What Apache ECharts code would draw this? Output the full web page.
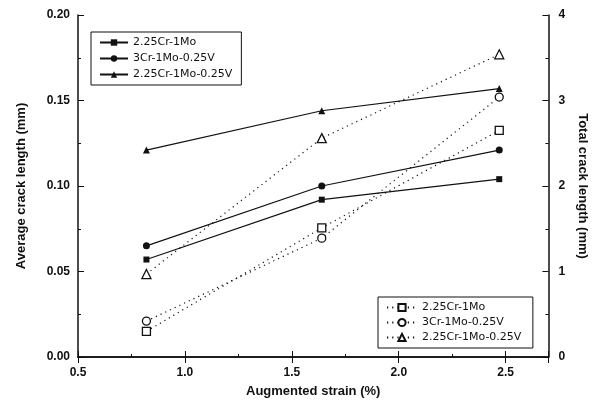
<!DOCTYPE html>
<html>
<head>
<meta charset="utf-8">
<script src="https://cdn.jsdelivr.net/npm/echarts@6/dist/echarts.min.js"></script>
<style>
  html, body { margin: 0; padding: 0; background: #fff; }
  #chart { width: 597px; height: 405px; }
</style>
</head>
<body>
<div id="chart"></div>
<script>
// ── Data ──
const strain = [0.82, 1.64, 2.47];

// average crack length (mm), left axis, solid lines
const avgCr1Mo = [0.057, 0.092, 0.104];
const avg3Cr = [0.065, 0.100, 0.121];
const avgCrV = [0.121, 0.144, 0.157];

// total crack length (mm), right axis, dotted lines
const totCr1Mo = [0.30, 1.51, 2.65];
const tot3Cr = [0.42, 1.39, 3.04];
const totCrV = [0.97, 2.56, 3.54];

const names = ['2.25Cr-1Mo', '3Cr-1Mo-0.25V', '2.25Cr-1Mo-0.25V'];

const pairs = ys => strain.map((x, i) => [x, ys[i]]);

const FONT = 'Liberation Sans';
const ink = '#111';

function solid(name, ys, symbol, size) {
  return {
    name, type: 'line', xAxisIndex: 0, yAxisIndex: 0,
    data: pairs(ys), symbol, symbolSize: size,
    itemStyle: { color: ink },
    lineStyle: { color: ink, width: 1.2, type: 'solid' },
  };
}

// trailing space keeps the two legends apart
function dotted(name, ys, symbol, size) {
  return {
    name: name + ' ', type: 'line', xAxisIndex: 0, yAxisIndex: 1,
    data: pairs(ys), symbol, symbolSize: size,
    itemStyle: { color: '#fff', borderColor: ink, borderWidth: 1.3 },
    lineStyle: { color: ink, width: 1.2, type: [1.2, 4] },
  };
}

const chart = echarts.init(document.getElementById('chart'));

const tickLabel = { color: ink, fontFamily: FONT, fontWeight: 'bold', fontSize: 12 };
const axisName = { color: ink, fontFamily: FONT, fontWeight: 'bold', fontSize: 13 };
const legendText = { color: ink, fontFamily: 'DejaVu Sans', fontSize: 11 };

chart.setOption({
  backgroundColor: '#fff',
  animation: false,
  grid: { left: 78, right: 41, top: 15, bottom: 48 },
  legend: [
    {
      data: names,
      left: 91, top: 32, orient: 'vertical',
      itemWidth: 28, itemHeight: 8, itemGap: 5,
      padding: [5, 9, 5, 8],
      borderColor: ink, borderWidth: 1,
      textStyle: legendText,
    },
    {
      data: names.map(n => n + ' '),
      left: 378, top: 297, orient: 'vertical',
      itemWidth: 30, itemHeight: 9, itemGap: 4,
      padding: [5, 8, 5, 8],
      borderColor: ink, borderWidth: 1,
      textStyle: legendText,
    },
  ],
  xAxis: [
    {
      type: 'value', min: 0.5, max: 2.7, interval: 0.5,
      name: 'Augmented strain (%)', nameLocation: 'middle', nameGap: 28,
      nameTextStyle: axisName,
      axisLine: { lineStyle: { color: ink, width: 1.5 } },
      axisTick: { inside: true, length: 6, lineStyle: { color: ink } },
      minorTick: { show: true, splitNumber: 2, length: 3, lineStyle: { color: ink } },
      axisLabel: Object.assign({ margin: 10, formatter: v => v.toFixed(1), showMaxLabel: false }, tickLabel),
      splitLine: { show: false },
    },
    {
      type: 'value', min: 0.5, max: 2.7, interval: 0.5, position: 'top',
      axisLine: { lineStyle: { color: ink, width: 1.5 } },
      axisTick: { inside: true, length: 6, lineStyle: { color: ink } },
      axisLabel: { show: false },
      splitLine: { show: false },
    },
  ],
  yAxis: [
    {
      type: 'value', min: 0, max: 0.2, interval: 0.05,
      name: 'Average crack length (mm)', nameLocation: 'middle', nameGap: 50,
      nameTextStyle: axisName,
      axisLine: { show: true, lineStyle: { color: ink, width: 1.5 } },
      axisTick: { show: true, inside: true, length: 6, lineStyle: { color: ink } },
      minorTick: { show: true, splitNumber: 2, length: 3, lineStyle: { color: ink } },
      axisLabel: Object.assign({ margin: 8, formatter: v => v.toFixed(2) }, tickLabel),
      splitLine: { show: false },
    },
    {
      type: 'value', min: 0, max: 4, interval: 1, position: 'right',
      name: 'Total crack length (mm)', nameLocation: 'middle', nameGap: 24,
      nameRotate: -90,
      nameTextStyle: axisName,
      axisLine: { show: true, lineStyle: { color: ink, width: 1.5 } },
      axisTick: { show: true, inside: true, length: 6, lineStyle: { color: ink } },
      minorTick: { show: true, splitNumber: 2, length: 3, lineStyle: { color: ink } },
      axisLabel: Object.assign({ margin: 10 }, tickLabel),
      splitLine: { show: false },
    },
  ],
  series: [
    solid(names[0], avgCr1Mo, 'rect', 6),
    solid(names[1], avg3Cr, 'circle', 7),
    solid(names[2], avgCrV, 'triangle', 7),
    dotted(names[0], totCr1Mo, 'rect', 8),
    dotted(names[1], tot3Cr, 'circle', 8),
    dotted(names[2], totCrV, 'triangle', 9),
  ],
});
</script>
</body>
</html>
